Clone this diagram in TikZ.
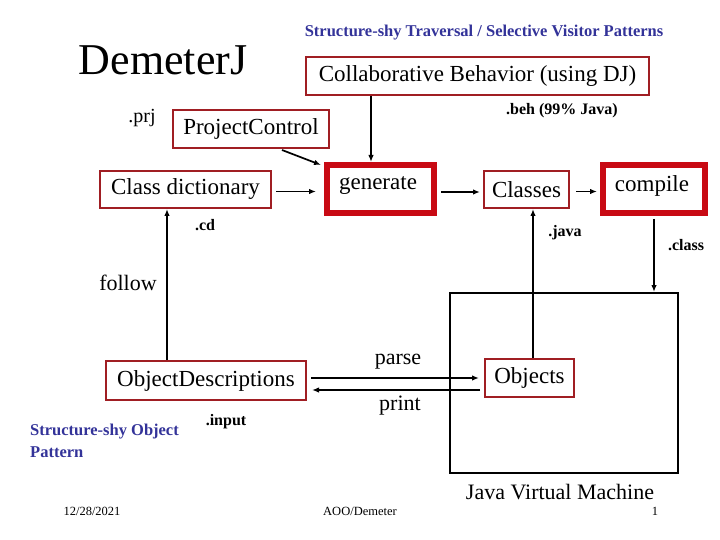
\documentclass[tikz,border=0pt]{standalone}
\usepackage{fontspec}
\setmainfont{Liberation Serif}
\usepackage{tikz}
\usetikzlibrary{arrows.meta, positioning, calc}
\definecolor{boxred}{RGB}{160, 30, 35}
\definecolor{hotred}{RGB}{200, 10, 20}
\definecolor{notecol}{RGB}{51, 51, 153}
\newcommand{\fsz}[1]{\fontsize{#1}{#1}\selectfont}

\begin{document}
\begin{tikzpicture}[
    x=1pt, y=-1pt,
    box/.style={rectangle, draw=boxred, line width=2pt, inner sep=0pt,
                align=center, font=\fsz{23}},
    tbox/.style={rectangle, draw=hotred, line width=6pt, inner sep=0pt,
                 align=center, font=\fsz{23}},
    lbl/.style={inner sep=0pt, font=\fsz{17}},
    ext/.style={inner sep=0pt, font=\bfseries\fsz{16}},
    note/.style={inner sep=0pt, text=notecol, font=\bfseries\fsz{16.5}},
    arr/.style={draw=black, line width=1.7pt, -{Latex[length=7pt, width=5.5pt]}}
  ]
  \useasboundingbox (0,0) rectangle (720,540);

  % Headings
  \node[inner sep=0pt, font=\fsz{44}] (title) at (163,60) {DemeterJ};
  \node[note] (sub) at (484,33) {Structure-shy Traversal / Selective Visitor Patterns};

  % Nodes
  \node[box, minimum width=343pt, minimum height=38pt] (collab) at (477.5,76) {Collaborative Behavior (using DJ)};
  \node[box, minimum width=156pt, minimum height=38pt] (pc) at (251,129) {ProjectControl};
  \node[box, minimum width=171pt, minimum height=37pt] (cd) at (185.5,189.5) {Class dictionary};
  \node[tbox, minimum width=107pt, minimum height=48pt] (gen) at (380.5,189) {};
  \node[inner sep=0pt, font=\fsz{23}] (gentxt) at (378,186) {generate};
  \node[box, minimum width=85pt, minimum height=37pt] (cls) at (526.5,189.5) {Classes};
  \node[tbox, minimum width=102pt, minimum height=48pt] (cmp) at (654,189) {};
  \node[inner sep=0pt, font=\fsz{23}] (cmptxt) at (652,186) {compile};
  \node[box, minimum width=200pt, minimum height=39pt] (od) at (206,380.5) {ObjectDescriptions};
  \node[box, minimum width=89pt, minimum height=38pt] (obj) at (529.5,378) {Objects};
  \node[draw, line width=2pt, minimum width=228pt, minimum height=180pt, inner sep=0pt] (jvm) at (564,383) {};

  % Labels
  \node[lbl, font=\fsz{20}] (prj) at (142,118) {.prj};
  \node[ext] (beh) at (562,111) {.beh (99\% Java)};
  \node[ext] (cdext) at (205,225) {.cd};
  \node[ext] (javaext) at (565,233) {.java};
  \node[ext] (classext) at (686,245) {.class};
  \node[lbl, font=\fsz{22}] (follow) at (128,283) {follow};
  \node[lbl, font=\fsz{22}] (parse) at (398,362) {parse};
  \node[lbl, font=\fsz{22}] (print) at (400,406) {print};
  \node[ext] (inext) at (226,422) {.input};
  \node[note, align=left, anchor=north west] (pattern) at (30,424)
        {Structure-shy Object\\[5pt]Pattern};
  \node[lbl, font=\fsz{22}] (jvmlbl) at (560,492) {Java Virtual Machine};

  % Footer
  \node[lbl, font=\fsz{12.5}] (date) at (92,511) {12/28/2021};
  \node[lbl, font=\fsz{12.5}] (foot) at (360,511) {AOO/Demeter};
  \node[lbl, font=\fsz{12.5}] (page) at (655,511) {1};

  % Arrows
  \draw[arr] ([xshift=-9.5pt]gen.north |- collab.south) -- ([xshift=-9.5pt]gen.north);
  \draw[arr] ([xshift=-48pt, yshift=-1pt]pc.south east) -- ([xshift=-3pt, yshift=-3pt]gen.north west);
  \draw[arr, shorten <=4pt, shorten >=8pt] ([yshift=-2pt]cd.east) -- ([yshift=-2pt]cd.east -| gen.west);
  \draw[arr, shorten <=4pt, shorten >=3pt] ([yshift=-3pt]gen.east) -- ([yshift=-3pt]gen.east -| cls.west);
  \draw[arr, shorten <=6pt, shorten >=3pt] ([yshift=-2pt]cls.east) -- ([yshift=-2pt]cls.east -| cmp.west);
  \draw[arr] ([xshift=-39pt]od.north) -- ([xshift=-39pt]od.north |- cd.south);
  \draw[arr] ([xshift=3.5pt]obj.north) -- ([xshift=3.5pt]obj.north |- cls.south);
  \draw[arr, shorten <=3pt] (cmp.south) -- (cmp.south |- jvm.north);
  \draw[arr, shorten <=4pt, shorten >=5pt] (od.east |- obj.west) -- (obj.west);
  \draw[arr, shorten <=4pt, shorten >=5pt] ([yshift=-12pt]obj.west) -- ([yshift=-12pt]obj.west -| od.east);
\end{tikzpicture}
\end{document}
